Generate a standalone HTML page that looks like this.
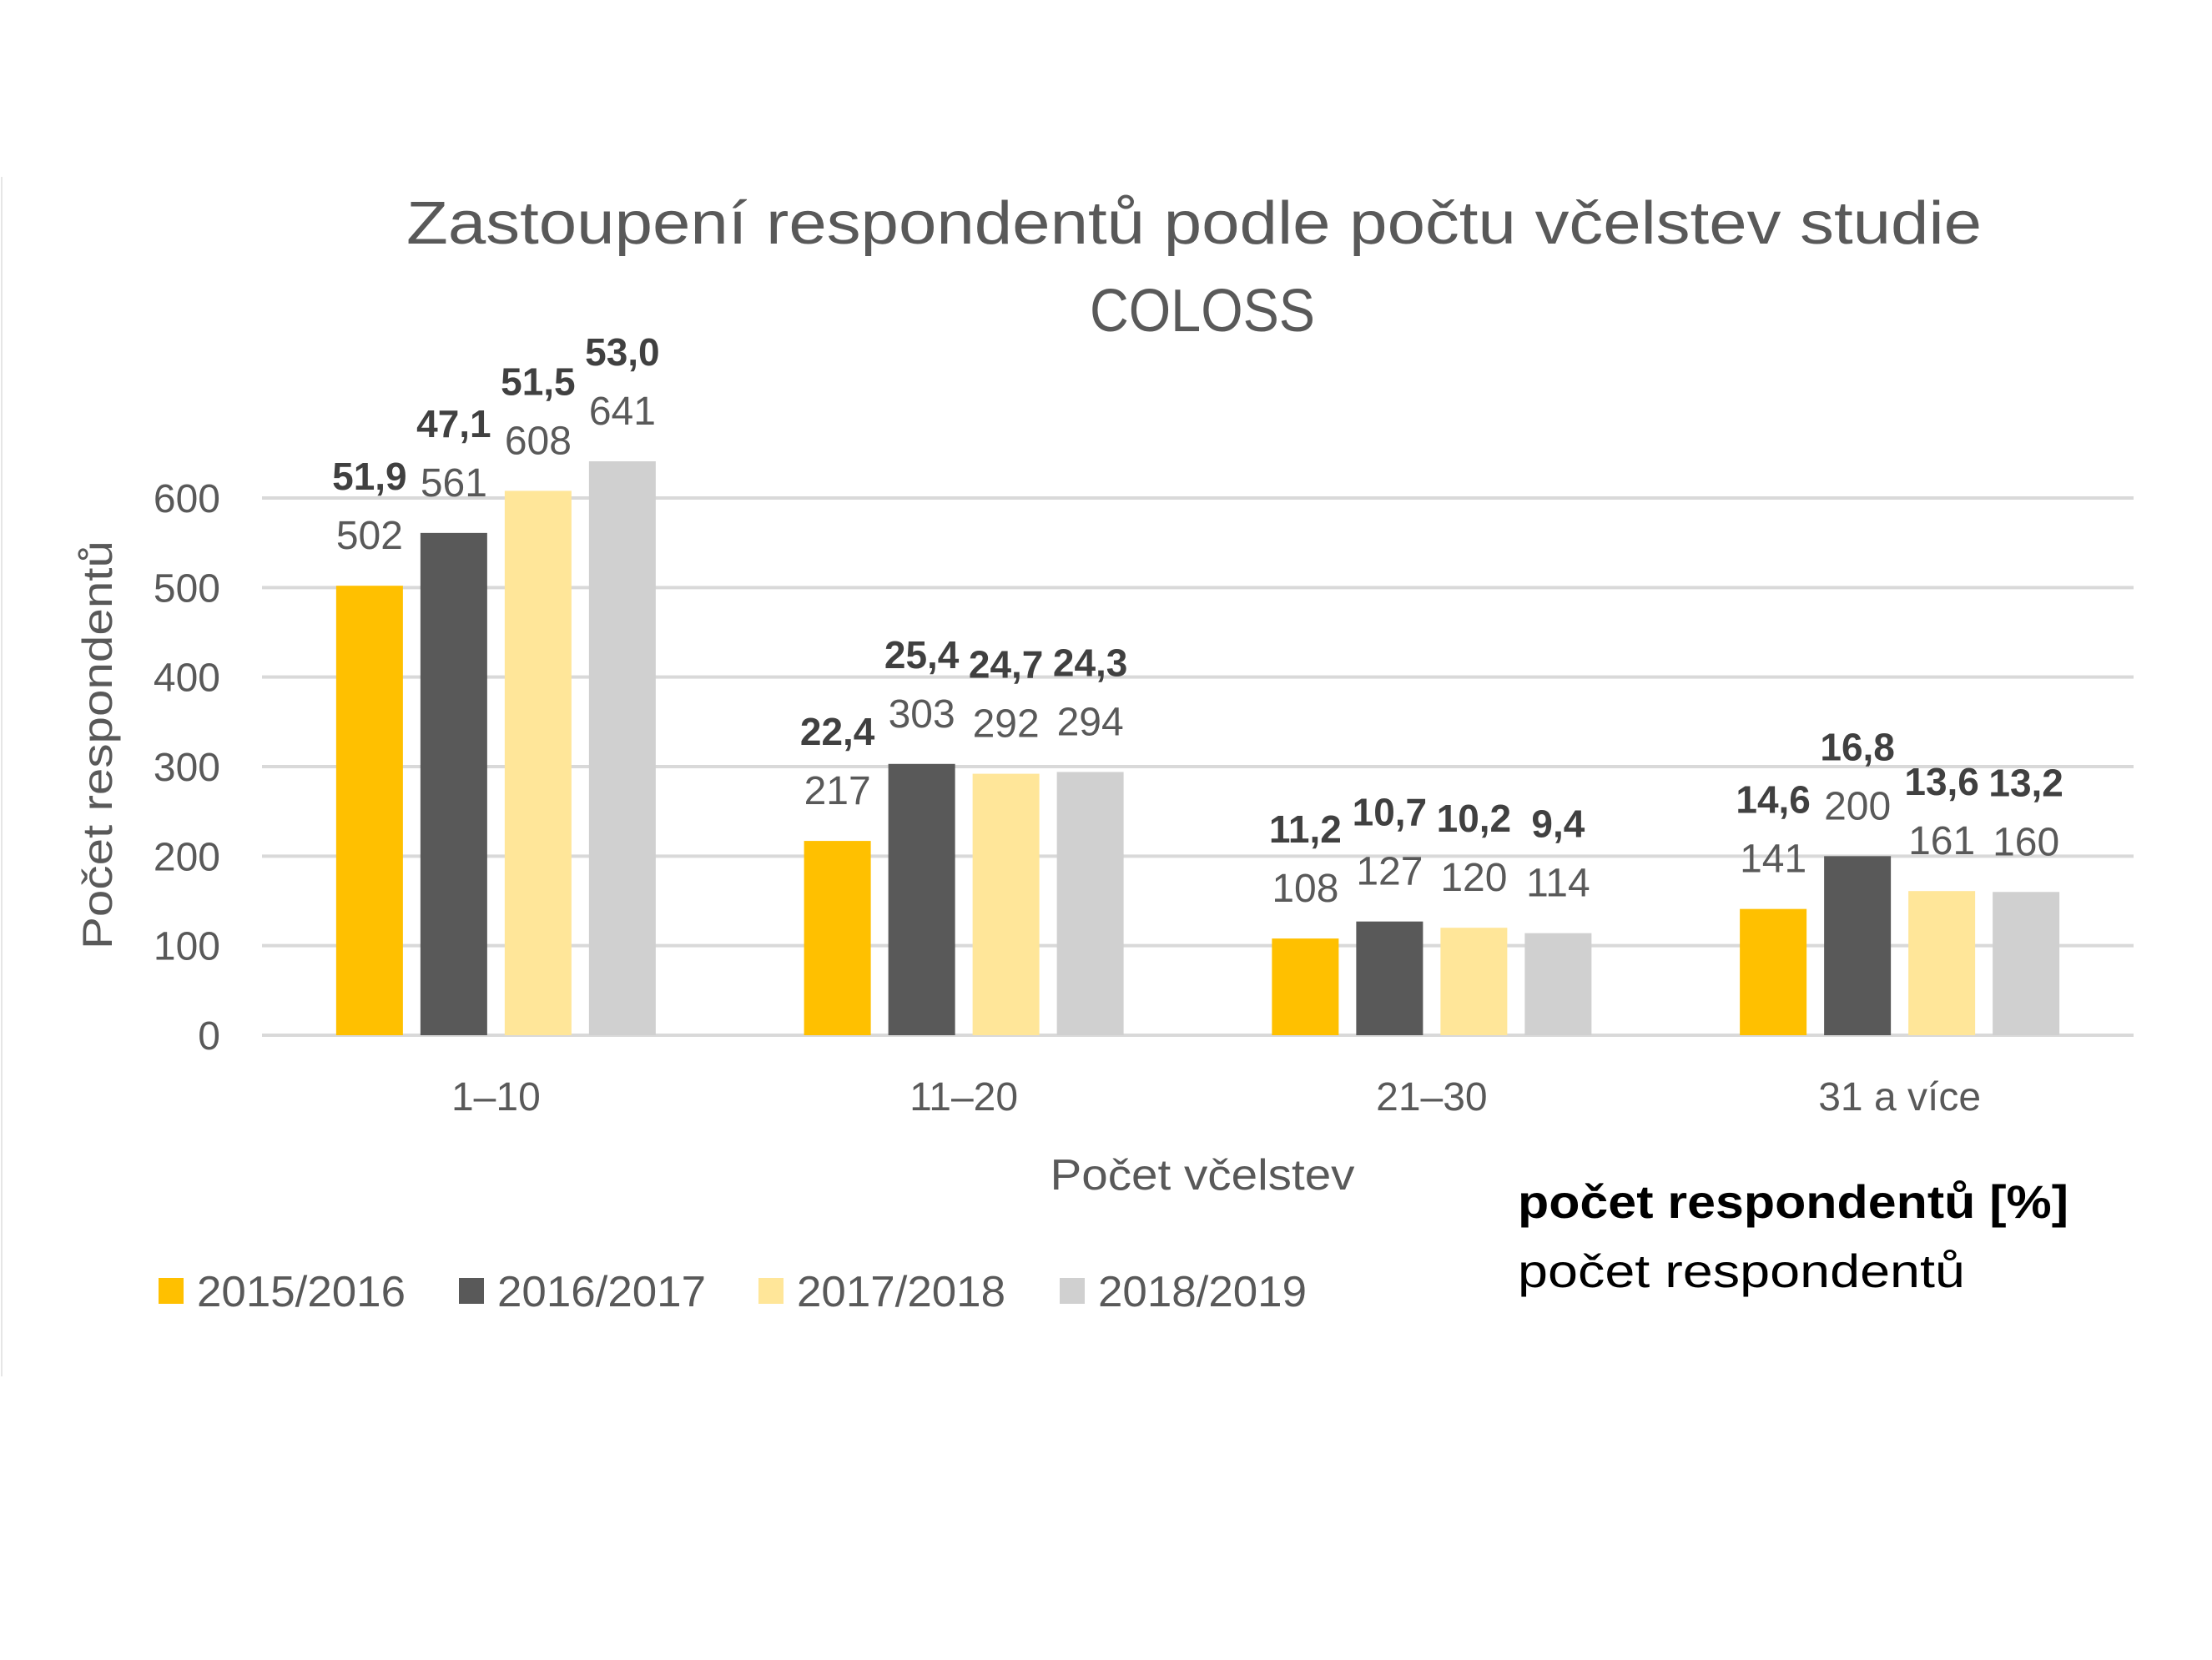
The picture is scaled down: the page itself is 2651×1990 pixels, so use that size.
<!DOCTYPE html>
<html><head><meta charset="utf-8"><style>
html,body{margin:0;padding:0;background:#fff;}
svg{display:block;font-family:"Liberation Sans",sans-serif;}
</style></head><body>
<svg id="chart" width="2651" height="1990" viewBox="0 0 2651 1990" xmlns="http://www.w3.org/2000/svg">
<line x1="2" y1="212" x2="2" y2="1650" stroke="#e6e6e6" stroke-width="2"/>
<text x="1431" y="292" text-anchor="middle" font-size="72" fill="#595959" textLength="1888" lengthAdjust="spacingAndGlyphs">Zastoupení  respondentů podle počtu včelstev studie</text>
<text x="1441" y="397" text-anchor="middle" font-size="72" fill="#595959" textLength="270" lengthAdjust="spacingAndGlyphs">COLOSS</text>
<g id="grid"></g><g id="bars"></g><g id="labels"></g>
<text transform="translate(134,893) rotate(-90)" text-anchor="middle" font-size="50" fill="#595959" textLength="490" lengthAdjust="spacingAndGlyphs">Počet respondentů</text>
<text x="1441" y="1426" text-anchor="middle" font-size="52" fill="#595959" textLength="365" lengthAdjust="spacingAndGlyphs">Počet včelstev</text>
<text x="1819" y="1460" font-size="56" font-weight="bold" fill="#000" textLength="660" lengthAdjust="spacingAndGlyphs">počet respondentů [%]</text>
<text x="1819" y="1543" font-size="56" fill="#000" textLength="536" lengthAdjust="spacingAndGlyphs">počet respondentů</text>
<g id="legend"></g>
</svg>
<script>
const categories=["1–10","11–20","21–30","31 a více"];
const seriesNames=["2015/2016","2016/2017","2017/2018","2018/2019"];
const s2015=[502,217,108,141];
const s2016=[561,303,127,200];
const s2017=[608,292,120,161];
const s2018=[641,294,114,160];
const p2015=["51,9","22,4","11,2","14,6"];
const p2016=["47,1","25,4","10,7","16,8"];
const p2017=["51,5","24,7","10,2","13,6"];
const p2018=["53,0","24,3","9,4","13,2"];
const yTicks=[0,100,200,300,400,500,600];
const series=[s2015,s2016,s2017,s2018];
const pcts=[p2015,p2016,p2017,p2018];
const colors=["#FFC000","#595959","#FFE699","#D0D0D0"];
const NS="http://www.w3.org/2000/svg";
const X0=314,X1=2557,Y0=1241,Y600=597;
const y=v=>Y0-(v/600)*(Y0-Y600);
const catW=(X1-X0)/categories.length;
const barW=80,step=101;
const xBar=(c,s)=>X0+c*catW+(catW-(4*step-21))/2+s*step;
function mk(tag,attrs,parent,txt){const e=document.createElementNS(NS,tag);for(const k in attrs)e.setAttribute(k,attrs[k]);if(txt!==undefined)e.textContent=txt;parent.appendChild(e);return e;}
const grid=document.getElementById('grid'),bars=document.getElementById('bars'),labels=document.getElementById('labels'),legend=document.getElementById('legend');
yTicks.forEach(t=>{
  const l=mk('line',{x1:X0,x2:X1,y1:y(t),y2:y(t),stroke:'#D9D9D9','stroke-width':4},grid);
  
  
  const tx=mk('text',{x:264,y:y(t)+17,'text-anchor':'end','font-size':48,fill:'#595959'},grid,String(t));
  
  
});
categories.forEach((c,ci)=>{
  const tx=mk('text',{x:X0+catW*(ci+0.5),y:1331,'text-anchor':'middle','font-size':48,fill:'#595959'},labels,c);
  
  
  series.forEach((s,si)=>{
    const v=s[ci],bx=xBar(ci,si);
    const r=mk('rect',{x:bx,y:y(v),width:barW,height:Y0-y(v),fill:colors[si]},bars);
    
    
    const cx=bx+barW/2;
    const t1=mk('text',{x:cx,y:y(v)-44,'text-anchor':'middle','font-size':48,fill:'#595959'},labels,String(v));
    
    
    const t2=mk('text',{x:cx,y:y(v)-115,'text-anchor':'middle','font-size':46,'font-weight':'bold',fill:'#404040'},labels,pcts[si][ci]);
    
    
  });
});
const legX=[190,550,909,1270];
seriesNames.forEach((n,i)=>{
  const r=mk('rect',{x:legX[i],y:1532,width:30,height:31,fill:colors[i]},legend);
  
  
  const t=mk('text',{x:legX[i]+46,y:1566,'font-size':52,fill:'#595959',textLength:250,lengthAdjust:'spacingAndGlyphs'},legend,n);
  
  
});
</script>
</body></html>
